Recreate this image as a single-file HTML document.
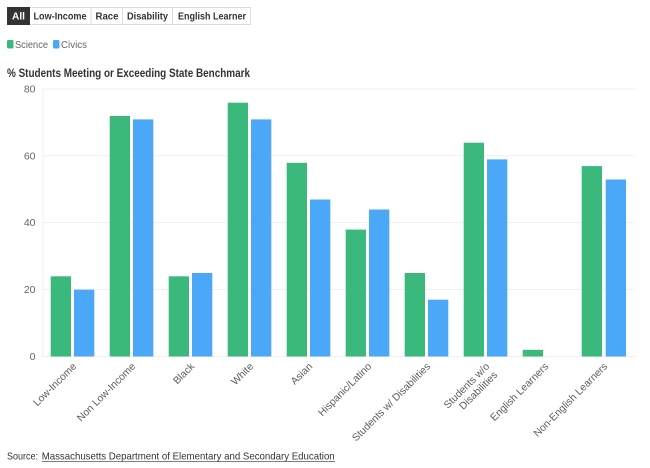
<!DOCTYPE html>
<html><head><meta charset="utf-8"><style>
html,body{margin:0;padding:0;background:#fff;}
svg{display:block;font-family:"Liberation Sans",sans-serif;}
</style></head><body>
<svg width="650" height="468" viewBox="0 0 650 468" xmlns="http://www.w3.org/2000/svg">
<!-- buttons -->
<g>
<rect x="7.5" y="7.5" width="243" height="17" fill="#fff" stroke="#dcdcdc"/>
<rect x="7" y="7" width="23" height="18" fill="#333"/>
<line x1="91" y1="7.5" x2="91" y2="24.5" stroke="#dcdcdc"/>
<line x1="122.5" y1="7.5" x2="122.5" y2="24.5" stroke="#dcdcdc"/>
<line x1="172.5" y1="7.5" x2="172.5" y2="24.5" stroke="#dcdcdc"/>
<g font-size="10" font-weight="bold" fill="#333">
<text x="12" y="19.5" fill="#fff" textLength="13" lengthAdjust="spacingAndGlyphs">All</text>
<text x="33.5" y="19.5" textLength="53" lengthAdjust="spacingAndGlyphs">Low-Income</text>
<text x="95.5" y="19.5" textLength="23" lengthAdjust="spacingAndGlyphs">Race</text>
<text x="127" y="19.5" textLength="41" lengthAdjust="spacingAndGlyphs">Disability</text>
<text x="178" y="19.5" textLength="68" lengthAdjust="spacingAndGlyphs">English Learner</text>
</g>
</g>
<!-- legend -->
<rect x="7" y="40" width="6.5" height="8.5" rx="1.5" fill="#3bb87c"/>
<text x="15" y="48" font-size="10.5" fill="#666" textLength="33" lengthAdjust="spacingAndGlyphs">Science</text>
<rect x="53" y="40" width="6.5" height="8.5" rx="1.5" fill="#4ba8f9"/>
<text x="61" y="48" font-size="10.5" fill="#666" textLength="26" lengthAdjust="spacingAndGlyphs">Civics</text>
<!-- title -->
<text x="7" y="77" font-size="11.5" font-weight="bold" fill="#333" textLength="243" lengthAdjust="spacingAndGlyphs">% Students Meeting or Exceeding State Benchmark</text>
<!-- grid -->
<g stroke="#efefef" stroke-width="1">
<line x1="43" y1="89" x2="635" y2="89"/>
<line x1="43" y1="155.8" x2="635" y2="155.8"/>
<line x1="43" y1="222.6" x2="635" y2="222.6"/>
<line x1="43" y1="289.4" x2="635" y2="289.4"/>
<line x1="43" y1="356.5" x2="635" y2="356.5"/>
<line x1="43" y1="89" x2="43" y2="356.5"/>
</g>
<g font-size="10.5" fill="#666" text-anchor="end">
<text x="35.5" y="92.5">80</text>
<text x="35.5" y="159.3">60</text>
<text x="35.5" y="226.1">40</text>
<text x="35.5" y="292.9">20</text>
<text x="35.5" y="360">0</text>
</g>
<!-- bars -->
<g fill="#3bb87c">
<rect x="50.7" y="276.3" width="20.3" height="80.2"/>
<rect x="109.7" y="116" width="20.3" height="240.5"/>
<rect x="168.7" y="276.3" width="20.3" height="80.2"/>
<rect x="227.7" y="102.7" width="20.3" height="253.8"/>
<rect x="286.7" y="162.8" width="20.3" height="193.7"/>
<rect x="345.7" y="229.6" width="20.3" height="126.9"/>
<rect x="404.7" y="273" width="20.3" height="83.5"/>
<rect x="463.7" y="142.7" width="20.3" height="213.8"/>
<rect x="522.7" y="349.8" width="20.3" height="6.7"/>
<rect x="581.7" y="166.1" width="20.3" height="190.4"/>
</g>
<g fill="#4ba8f9">
<rect x="74" y="289.7" width="20.3" height="66.8"/>
<rect x="133" y="119.4" width="20.3" height="237.1"/>
<rect x="192" y="273" width="20.3" height="83.5"/>
<rect x="251" y="119.4" width="20.3" height="237.1"/>
<rect x="310" y="199.5" width="20.3" height="157"/>
<rect x="369" y="209.5" width="20.3" height="147"/>
<rect x="428" y="299.7" width="20.3" height="56.8"/>
<rect x="487" y="159.4" width="20.3" height="197.1"/>
<rect x="605.7" y="179.5" width="20.3" height="177"/>
</g>
<!-- x labels -->
<g font-size="10.3" fill="#5c5c5c" text-anchor="end">
<text transform="translate(77,367) rotate(-45)">Low-Income</text>
<text transform="translate(136,367) rotate(-45)">Non Low-Income</text>
<text transform="translate(195,367) rotate(-45)">Black</text>
<text transform="translate(254,367) rotate(-45)">White</text>
<text transform="translate(313,367) rotate(-45)">Asian</text>
<text transform="translate(372,367) rotate(-45)">Hispanic/Latino</text>
<text transform="translate(431,367) rotate(-45)">Students w/ Disabilities</text>
<text transform="translate(490,367) rotate(-45)">Students w/o</text>
<text transform="translate(498,375.5) rotate(-45)">Disabilities</text>
<text transform="translate(549,367) rotate(-45)">English Learners</text>
<text transform="translate(608,367) rotate(-45)">Non-English Learners</text>
</g>
<!-- source -->
<text x="7" y="459.5" font-size="10.3" fill="#333" textLength="31" lengthAdjust="spacingAndGlyphs">Source:</text>
<text x="41.7" y="459.5" font-size="10.3" fill="#333" textLength="293" lengthAdjust="spacingAndGlyphs">Massachusetts Department of Elementary and Secondary Education</text>
<line x1="41.7" y1="461.5" x2="335" y2="461.5" stroke="#555" stroke-width="0.8"/>
</svg>
</body></html>
